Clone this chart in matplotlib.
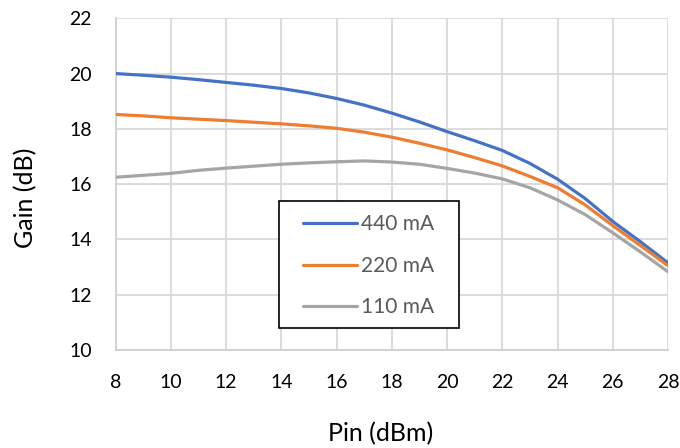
import numpy as np
import matplotlib
matplotlib.use("Agg")
import matplotlib.pyplot as plt
from matplotlib.patches import Rectangle

plt.rcParams['font.family'] = ['Lato', 'DejaVu Sans']

# Input power sweep (dBm) and measured gain (dB) for three bias currents
pin_dbm = [8, 9, 10, 11, 12, 13, 14, 15, 16, 17, 18, 19, 20, 21, 22, 23, 24, 25, 26, 27, 28]
gain_440 = [20.00, 19.94, 19.87, 19.78, 19.68, 19.58, 19.46, 19.30, 19.10, 18.86, 18.57,
            18.25, 17.90, 17.57, 17.22, 16.75, 16.18, 15.48, 14.65, 13.92, 13.15]
gain_220 = [18.52, 18.47, 18.40, 18.35, 18.30, 18.24, 18.18, 18.11, 18.02, 17.88, 17.70,
            17.48, 17.24, 16.96, 16.66, 16.28, 15.87, 15.25, 14.50, 13.78, 13.05]
gain_110 = [16.25, 16.32, 16.39, 16.50, 16.58, 16.65, 16.72, 16.77, 16.81, 16.84, 16.80,
            16.72, 16.57, 16.40, 16.19, 15.87, 15.43, 14.90, 14.24, 13.55, 12.83]
series_labels = ["440 mA", "220 mA", "110 mA"]
series_colors = ["#4472C4", "#ED7D31", "#A5A5A5"]

x_ticks = [8, 10, 12, 14, 16, 18, 20, 22, 24, 26, 28]
y_ticks = [10, 12, 14, 16, 18, 20, 22]

W, H = 680, 448
fig = plt.figure(figsize=(W / 100, H / 100), dpi=100)
ax = fig.add_axes([115.7 / W, 1 - 350 / H, (668 - 115.7) / W, (350 - 18.3) / H])

for g, lab, col in zip([gain_440, gain_220, gain_110], series_labels, series_colors):
    ax.plot(pin_dbm, g, color=col, lw=2.3, label=lab, solid_capstyle='round',
            zorder=3)

ax.set_xlim(8, 28)
ax.set_ylim(10, 22)
ax.set_xticks(x_ticks)
ax.set_yticks(y_ticks)
ax.grid(True, color="#d9d9d9", lw=1.3)
ax.set_axisbelow(True)
for s in ["top", "right"]:
    ax.spines[s].set_visible(False)
for s in ["left", "bottom"]:
    ax.spines[s].set_color("#d0d0d0")
    ax.spines[s].set_linewidth(1.3)
ax.tick_params(length=0, labelsize=14, pad=17, colors="black")

fig.text(26 / W, 1 - 198 / H, "Gain (dB)", rotation=90, ha="center", va="center",
         fontsize=18, color="black")
fig.text(381 / W, 1 - 434 / H, "Pin (dBm)", ha="center", va="center",
         fontsize=18, color="black")

# Legend frame drawn separately so the inner padding can be set freely
ax.add_patch(Rectangle((279.3 / W, 1 - 327.7 / H), 180 / W, 126.7 / H,
                       transform=fig.transFigure, facecolor="white",
                       edgecolor="black", lw=1.2, zorder=4, clip_on=False))
leg = ax.legend(loc="upper left", bbox_to_anchor=(302.7 / W, 1 - 214.5 / H),
                bbox_transform=fig.transFigure, frameon=False,
                fontsize=15, handlelength=2.6, handletextpad=0.2,
                labelspacing=1.03, borderpad=0, borderaxespad=0,
                labelcolor="#595959")
leg.set_zorder(5)

fig.savefig("out.png", dpi=100)
